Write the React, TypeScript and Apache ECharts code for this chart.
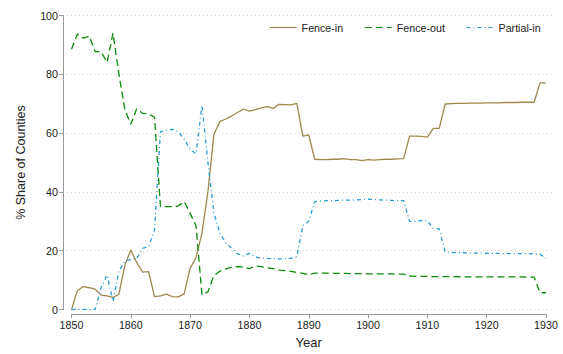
import React, { useEffect, useRef } from "react";
import * as echarts from "echarts";

const years: number[] = [];
for (let y = 1850; y <= 1930; y++) years.push(y);

const fenceIn = [
  0, 6.4, 7.8, 7.4, 6.9, 4.9, 4.6, 4.1, 5.2, 15.1,
  20.2, 16.0, 12.7, 12.9, 4.4, 4.6, 5.2, 4.4, 4.3, 5.3,
  14.0, 17.6, 26.0, 40.0, 59.5, 63.9, 64.8, 65.8, 67.0, 68.2,
  67.5, 68.0, 68.6, 69.0, 68.4, 69.8, 69.7, 69.6, 70.1, 59.0,
  59.4, 51.1, 51.0, 51.0, 51.1, 51.1, 51.3, 51.0, 51.0, 50.6,
  51.0, 50.8, 51.0, 51.1, 51.1, 51.2, 51.3, 59.0, 59.0, 58.9,
  58.6, 61.6, 61.6, 69.9, 70.0, 70.1, 70.1, 70.2, 70.2, 70.2,
  70.3, 70.3, 70.3, 70.4, 70.4, 70.4, 70.5, 70.5, 70.5, 77.1,
  77.1,
];

const fenceOut = [
  88.5, 93.7, 92.3, 93.0, 87.7, 87.7, 84.0, 94.0, 80.0, 68.0,
  63.0, 68.3, 66.7, 66.6, 65.4, 35.0, 35.0, 35.0, 35.2, 36.7,
  32.7, 28.5, 5.0, 6.0, 11.5, 13.0, 13.8, 14.3, 14.6, 14.5,
  13.9, 14.8, 14.6, 14.2, 13.9, 13.4, 13.2, 13.0, 12.6, 12.3,
  11.8, 12.4, 12.4, 12.4, 12.3, 12.3, 12.3, 12.2, 12.2, 12.2,
  12.1, 12.1, 12.1, 12.1, 12.1, 12.0, 12.0, 11.4, 11.3, 11.3,
  11.3, 11.2, 11.2, 11.2, 11.2, 11.2, 11.1, 11.1, 11.1, 11.1,
  11.1, 11.1, 11.1, 11.1, 11.1, 11.1, 11.1, 11.0, 11.0, 5.7,
  5.7,
];

const partialIn = [
  0, 0, 0, 0, 0, 7.5, 11.7, 2.7, 13.0, 16.5,
  17.0, 17.3, 20.8, 21.4, 27.0, 60.5, 61.0, 61.3, 60.5, 58.0,
  54.5, 53.0, 69.5, 50.0, 33.0, 26.0, 22.7, 20.8, 18.9, 18.2,
  19.1, 17.8, 17.5, 17.4, 17.3, 17.2, 17.3, 17.4, 18.0, 28.5,
  30.0, 36.7, 36.9, 37.0, 37.0, 37.1, 37.2, 37.2, 37.3, 37.4,
  37.5, 37.4, 37.3, 37.2, 37.1, 37.0, 37.0, 30.0, 30.0, 30.2,
  30.2, 27.6, 27.4, 19.6, 19.4, 19.3, 19.3, 19.2, 19.2, 19.2,
  19.1, 19.1, 19.1, 19.0, 19.0, 19.0, 19.0, 19.0, 18.9, 18.8,
  17.4,
];

const seriesNames = ["Fence-in", "Fence-out", "Partial-in"];
const yTicks = [0, 20, 40, 60, 80, 100];

const FONT = "'Liberation Sans', Arial, Helvetica, sans-serif";
const TXT = "#222";
const AXIS = "#9a9a9a";

export default function App() {
  const ref = useRef<HTMLDivElement>(null);
  useEffect(() => {
    if (!ref.current) return;
    const chart = echarts.init(ref.current, undefined, { renderer: "svg" });
    const pair = (vals: number[]) => years.map((y, i) => [y, vals[i]]);
    chart.setOption({
      animation: false,
      textStyle: { fontFamily: FONT },
      grid: [
        { left: 63, right: 8, top: 15.5, bottom: 44.5 },
        { left: 71.5, right: 17, top: 15.5, bottom: 36.3 },
      ],
      legend: {
        left: 264,
        top: 17,
        itemWidth: 27,
        itemHeight: 12,
        itemGap: 21,
        data: seriesNames,
        itemStyle: { opacity: 0 },
        lineStyle: { width: 1.2 },
        textStyle: { fontSize: 10.7, color: TXT, fontFamily: FONT },
      },
      xAxis: [
        {
          gridIndex: 0,
          type: "value",
          min: 1848.57,
          max: 1931.52,
          show: false,
          splitLine: { show: false },
        },
        {
          gridIndex: 1,
          type: "value",
          min: 1850,
          max: 1930,
          interval: 10,
          position: "bottom",
          axisLine: { show: true, lineStyle: { color: AXIS, width: 1 } },
          axisTick: { show: true, length: 4, lineStyle: { color: AXIS } },
          axisLabel: {
            fontSize: 10.7,
            color: TXT,
            margin: 5,
            fontFamily: FONT,
            formatter: (v: number) => String(v),
          },
          splitLine: { show: false },
          name: "Year",
          nameLocation: "middle",
          nameGap: 22,
          nameTextStyle: { fontSize: 13, color: TXT, fontFamily: FONT },
        },
      ],
      yAxis: [
        {
          gridIndex: 0,
          type: "value",
          min: 0,
          max: 100,
          interval: 20,
          axisLine: { show: true, lineStyle: { color: AXIS, width: 1 } },
          axisTick: { show: true, length: 4, lineStyle: { color: AXIS } },
          axisLabel: {
            fontSize: 10.7,
            color: TXT,
            margin: 5,
            fontFamily: FONT,
            formatter: (v: number) => (yTicks.includes(v) ? String(v) : ""),
          },
          splitLine: {
            show: true,
            lineStyle: { color: "#d6d6d6", type: [1, 3], width: 1 },
          },
          name: "% Share of Counties",
          nameLocation: "middle",
          nameGap: 36,
          nameTextStyle: { fontSize: 12.5, color: TXT, fontFamily: FONT },
        },
        { gridIndex: 1, type: "value", min: 0, max: 100, show: false },
      ],
      series: [
        {
          name: "Fence-in",
          type: "line",
          xAxisIndex: 0,
          yAxisIndex: 0,
          data: pair(fenceIn),
          showSymbol: false,
          symbol: "none",
          lineStyle: { color: "#9f8850", width: 1.3, type: "solid" },
          itemStyle: { color: "#9f8850" },
        },
        {
          name: "Fence-out",
          type: "line",
          xAxisIndex: 0,
          yAxisIndex: 0,
          data: pair(fenceOut),
          showSymbol: false,
          symbol: "none",
          lineStyle: { color: "#0b8a0b", width: 1.3, type: [7, 4] },
          itemStyle: { color: "#0b8a0b" },
        },
        {
          name: "Partial-in",
          type: "line",
          xAxisIndex: 0,
          yAxisIndex: 0,
          data: pair(partialIn),
          showSymbol: false,
          symbol: "none",
          lineStyle: { color: "#2a9ad6", width: 1.3, type: [4, 3, 1, 3] },
          itemStyle: { color: "#2a9ad6" },
        },
      ],
    });
    return () => chart.dispose();
  }, []);
  return <div ref={ref} style={{ width: 563, height: 354, position: "absolute", left: 0, top: 0, background: "#fff" }} />;
}
